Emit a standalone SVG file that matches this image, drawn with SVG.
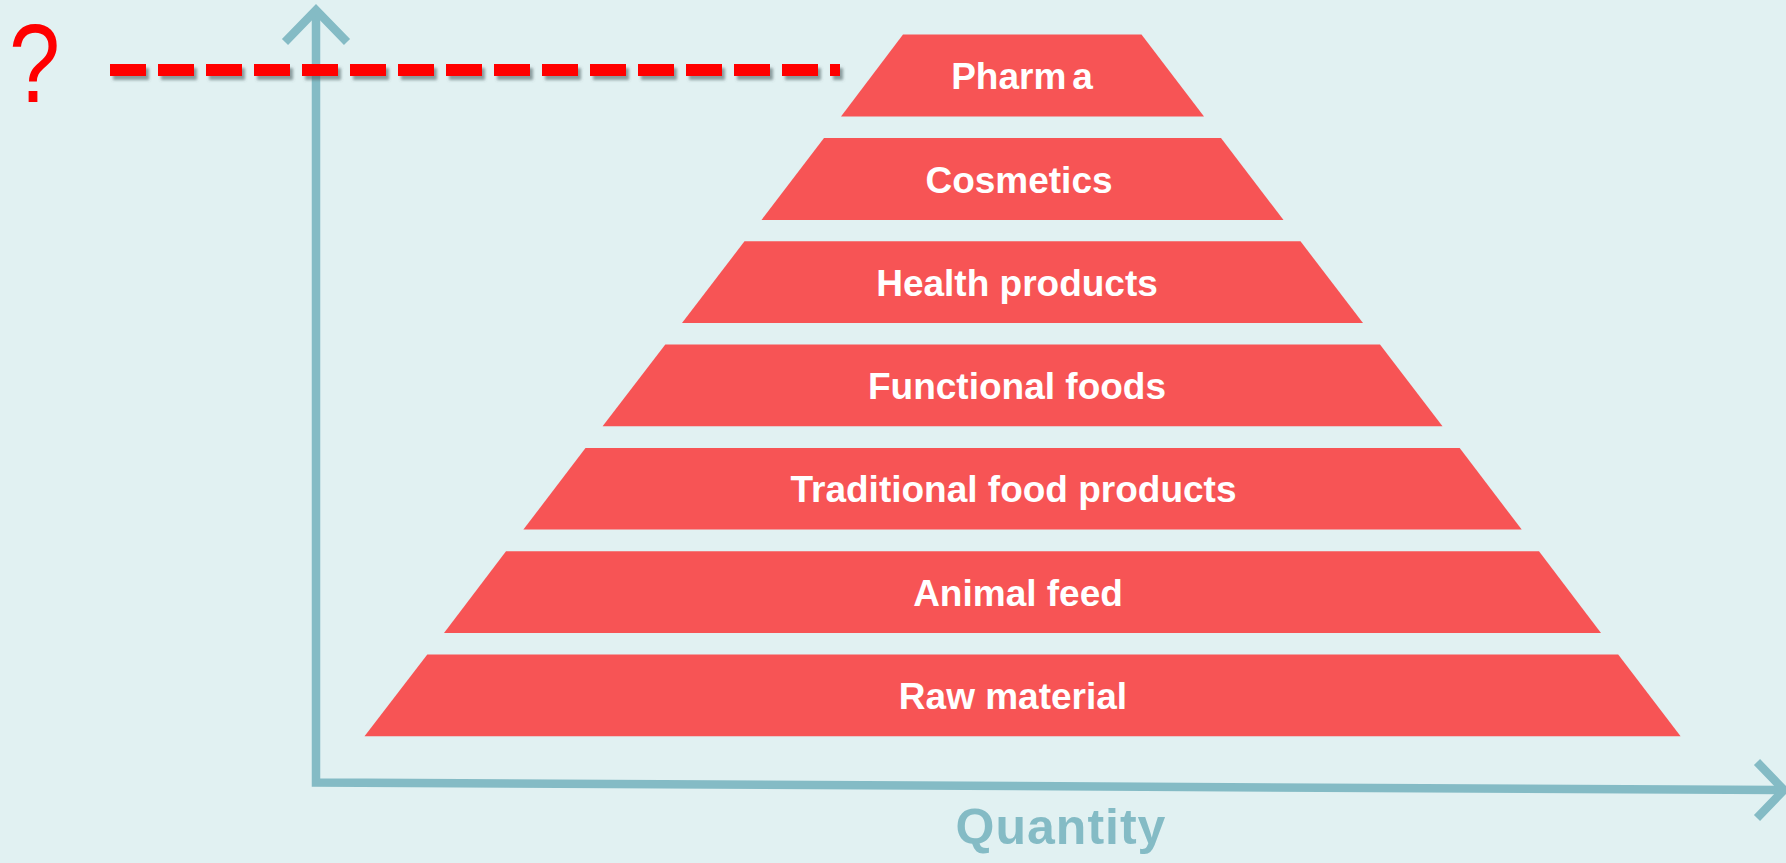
<svg xmlns="http://www.w3.org/2000/svg" width="1786" height="863" viewBox="0 0 1786 863">
  <defs>
    <style>
      .layer { fill: #f75455; }
      .lbl { font-family: "Liberation Sans", Arial, sans-serif; font-weight: bold; font-size: 37px; fill: #ffffff; text-anchor: middle; }
      .axis { fill: none; stroke: #84bbc5; stroke-width: 8.5; }
      .qty { font-family: "Liberation Sans", Arial, sans-serif; font-weight: bold; font-size: 50px; fill: #84bbc5; text-anchor: middle; letter-spacing: 1px; }
      .q { font-family: "Liberation Sans", Arial, sans-serif; font-size: 112px; fill: #ff0000; }
    </style>
    <filter id="shadow" filterUnits="userSpaceOnUse" x="90" y="50" width="780" height="45">
      <feDropShadow dx="3" dy="4" stdDeviation="1.5" flood-color="#4f6366" flood-opacity="0.6"/>
    </filter>
  </defs>
  <rect x="0" y="0" width="1786" height="863" fill="#e1f1f2"/>

  <g id="connectors">
    <polyline class="axis" points="316,12 316,782.5 1782,790" stroke-linejoin="miter"/>
    <path class="axis" d="M285,42 L316,10 L347,42"/>
    <path class="axis" d="M1757,762 L1784,790 L1757,818"/>
    <line x1="110" y1="70" x2="840" y2="70" stroke="#ff0000" stroke-width="12" stroke-dasharray="36 12" filter="url(#shadow)"/>
  </g>

  <g id="pharma">
    <polygon class="layer" points="903,34.5 1141.5,34.5 1204,116.5 841,116.5"/>
    <text class="lbl" x="1022" y="89">Pharm<tspan dx="6">a</tspan></text>
  </g>
  <g id="cosmetics">
    <polygon class="layer" points="824,138 1221,138 1283.5,220 761.5,220"/>
    <text class="lbl" x="1019" y="192.5">Cosmetics</text>
  </g>
  <g id="health">
    <polygon class="layer" points="744.5,241.3 1300.5,241.3 1363,323 682,323"/>
    <text class="lbl" x="1017" y="295.5">Health products</text>
  </g>
  <g id="functional">
    <polygon class="layer" points="665.3,344.6 1380,344.6 1442.5,426.3 602.6,426.3"/>
    <text class="lbl" x="1017" y="399">Functional foods</text>
  </g>
  <g id="traditional">
    <polygon class="layer" points="585.5,448 1459.7,448 1521.7,529.6 523.4,529.6"/>
    <text class="lbl" x="1013.5" y="502">Traditional food products</text>
  </g>
  <g id="animal">
    <polygon class="layer" points="506,551.2 1539,551.2 1601,633 444,633"/>
    <text class="lbl" x="1018" y="605.5">Animal feed</text>
  </g>
  <g id="raw">
    <polygon class="layer" points="427.3,654.5 1618.2,654.5 1680.6,736.2 364.5,736.2"/>
    <text class="lbl" x="1013" y="709">Raw material</text>
  </g>

  <g id="axis-label">
    <text class="qty" x="1061" y="844">Quantity</text>
  </g>
  <g id="question">
    <text class="q" transform="translate(9,102) scale(0.82,1)" x="0" y="0">?</text>
  </g>
</svg>
